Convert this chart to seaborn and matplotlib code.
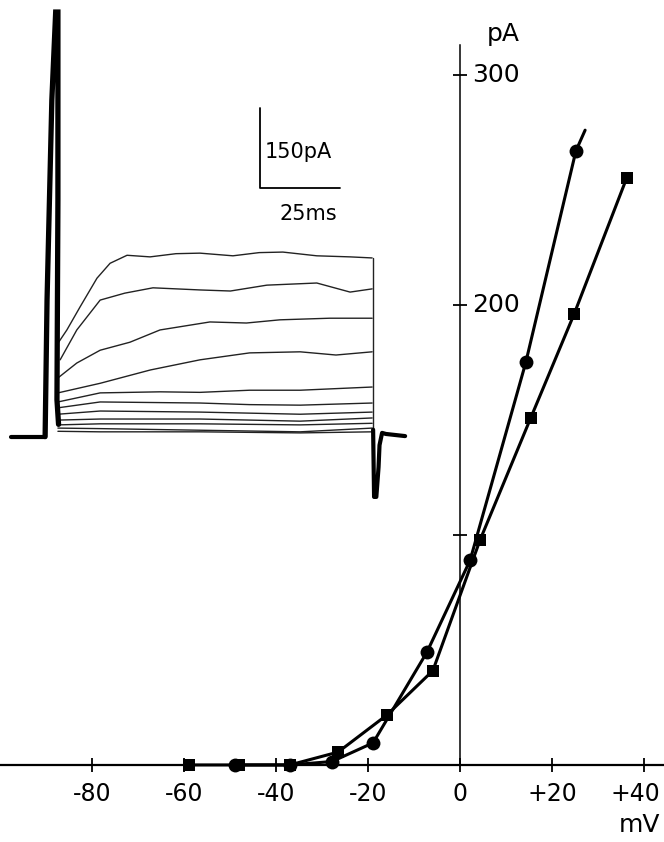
import numpy as np
import pandas as pd
import seaborn as sns
import matplotlib
matplotlib.use("Agg")
import matplotlib.pyplot as plt
from matplotlib.transforms import ScaledTranslation

# I-V curve (mV, pA)
circ_v = [-49.0, -37.0, -27.8, -18.9, -7.2, 2.2, 14.3, 25.2]
circ_i = [0.0, 0.0, 1.5, 9.6, 49.0, 89.0, 175.0, 267.0]
circ_tail_v = [25.2, 27.2]          # fitted line runs a little past the last point
circ_tail_i = [267.0, 276.0]
sq_v = [-59.0, -48.0, -37.0, -26.5, -15.9, -5.9, 4.4, 15.4, 24.8, 36.2]
sq_i = [0.0, 0.0, 0.0, 5.6, 21.7, 41.0, 98.0, 151.0, 196.0, 255.0]

x_ticks = [-80, -60, -40, -20, 0, 20, 40]
x_ticklabels = ['-80', '-60', '-40', '-20', '0', '+20', '+40']
y_ticks = [100, 200, 300]
y_ticklabels = ['', '200', '300']

# inset current traces (ms, pA), key points of each sweep
trace_t = [
    [3.1, 5.9, 10.0, 15.3, 19.4, 24.7, 31.9, 40.0, 47.5, 57.8, 66.0, 73.4, 84.0, 94.4, 101.3],
    [3.8, 9.0, 16.3, 24.0, 32.8, 47.5, 57.0, 68.4, 84.0, 94.4, 101.3],
    [3.1, 9.0, 16.3, 25.6, 35.0, 50.6, 62.0, 72.5, 88.0, 101.3],
    [3.1, 16.3, 32.0, 47.5, 63.0, 78.8, 90.0, 101.3],
    [3.1, 16.3, 35.0, 47.5, 63.0, 78.8, 101.3],
    [3.1, 16.3, 47.5, 63.0, 78.8, 101.3],
    [3.1, 16.3, 47.5, 78.8, 101.3],
    [3.1, 16.3, 47.5, 78.8, 101.3],
    [3.1, 16.3, 47.5, 78.8, 101.3],
    [3.1, 16.3, 47.5, 78.8, 101.3],
    [3.1, 16.3, 47.5, 78.8, 101.3],
]
trace_i = [
    [172, 197, 240, 294, 322, 337, 334, 340, 341, 336, 342, 343, 336, 334, 332],
    [141, 197, 253, 266, 276, 272, 270, 281, 285, 268, 274],
    [107, 135, 159, 174, 197, 212, 210, 216, 219, 219],
    [79, 97, 122, 141, 154, 156, 150, 156],
    [62, 79, 81, 80, 84, 84, 90],
    [51, 62, 60, 57, 56, 60],
    [39, 45, 43, 39, 43],
    [28, 30, 30, 26, 32],
    [19, 21, 21, 19, 22],
    [13, 12, 9, 6, 13],
    [7, 6, 6, 4, 6],
]
base_t = [-11.5, -0.9]
base_i = [-3, -3]
spike_t = [-0.9, -0.3, 1.2, 2.4, 3.1, 3.1, 2.8, 3.3]
spike_i = [-3, 253, 628, 793, 793, 440, 66, 20]
tail_t = [101.6, 101.9, 102.6, 103.3, 103.6, 104.4, 105.6, 111.6]
tail_i = [10, -116, -116, -60, -19, 4, 2, -2]

sns.set_theme(style='ticks')
plt.rcParams['font.family'] = ['DejaVu Sans']
plt.rcParams['text.color'] = 'black'
plt.rcParams['xtick.color'] = 'black'
plt.rcParams['ytick.color'] = 'black'

fig = plt.figure(figsize=(6.64, 8.42), dpi=100)

# ---- main I-V plot ----
ax = fig.add_axes([0, 0, 1, 1])
ax.patch.set_alpha(0)
ax.set_xlim(-100, 44.35)
ax.set_ylim(-33.5, 332.6)

sns.lineplot(x=circ_v, y=circ_i, ax=ax, color='black', lw=2.2, sort=False,
             marker='o', markersize=10, markeredgewidth=0)
sns.lineplot(x=circ_tail_v, y=circ_tail_i, ax=ax, color='black', lw=2.2, sort=False)
sns.lineplot(x=sq_v, y=sq_i, ax=ax, color='black', lw=2.2, sort=False,
             marker='s', markersize=8.5, markeredgewidth=0)

for s in ['top', 'right']:
    ax.spines[s].set_visible(False)
ax.spines['left'].set_position(('data', 0))
ax.spines['bottom'].set_position(('data', 0))
ax.spines['left'].set_bounds(0, 313)
ax.spines['left'].set_linewidth(1.1)
ax.spines['bottom'].set_linewidth(1.6)
ax.spines['left'].set_color('black')
ax.spines['bottom'].set_color('black')

ax.set_xticks(x_ticks)
ax.set_xticklabels(x_ticklabels, fontsize=17, color='black')
ax.set_yticks(y_ticks)
ax.tick_params(axis='x', direction='inout', length=10, width=1.3, pad=7)
ax.tick_params(axis='y', direction='inout', length=10, width=1.3, labelleft=False)
# the last label sits a bit left of its tick in the original
last = ax.get_xticklabels()[-1]
last.set_transform(last.get_transform() + ScaledTranslation(-9 / 100, 0, fig.dpi_scale_trans))
for yv, lab in zip(y_ticks, y_ticklabels):
    ax.text(2.6, yv, lab, ha='left', va='center', fontsize=18)
ax.text(9.3, 318, 'pA', ha='center', va='center', fontsize=18)
ax.text(39, -26, 'mV', ha='center', va='center', fontsize=18)
ax.set_xlabel('')
ax.set_ylabel('')

# ---- inset with current traces ----
axi = fig.add_axes([0, 0, 1, 1])
axi.set_xlim(-15, 192.5)
axi.set_ylim(-763, 815.6)
axi.axis('off')
for tt, ii in zip(trace_t, trace_i):
    axi.plot(tt, ii, color='#222222', lw=1.0)
axi.plot(base_t, base_i, color='black', lw=3)
axi.plot(spike_t, spike_i, color='black', lw=3.8, solid_joinstyle='miter')
axi.plot([101.6, 101.6], [332, -116], color='#222222', lw=1.0)
axi.plot(tail_t, tail_i, color='black', lw=3)

# scale bars
axi.plot([66.25, 66.25, 91.25], [613, 463, 463], color='black', lw=1.3)
axi.text(67.6, 530, '150pA', ha='left', va='center', fontsize=15)
axi.text(81.2, 415, '25ms', ha='center', va='center', fontsize=15)

plt.savefig('out.png', dpi=100)
